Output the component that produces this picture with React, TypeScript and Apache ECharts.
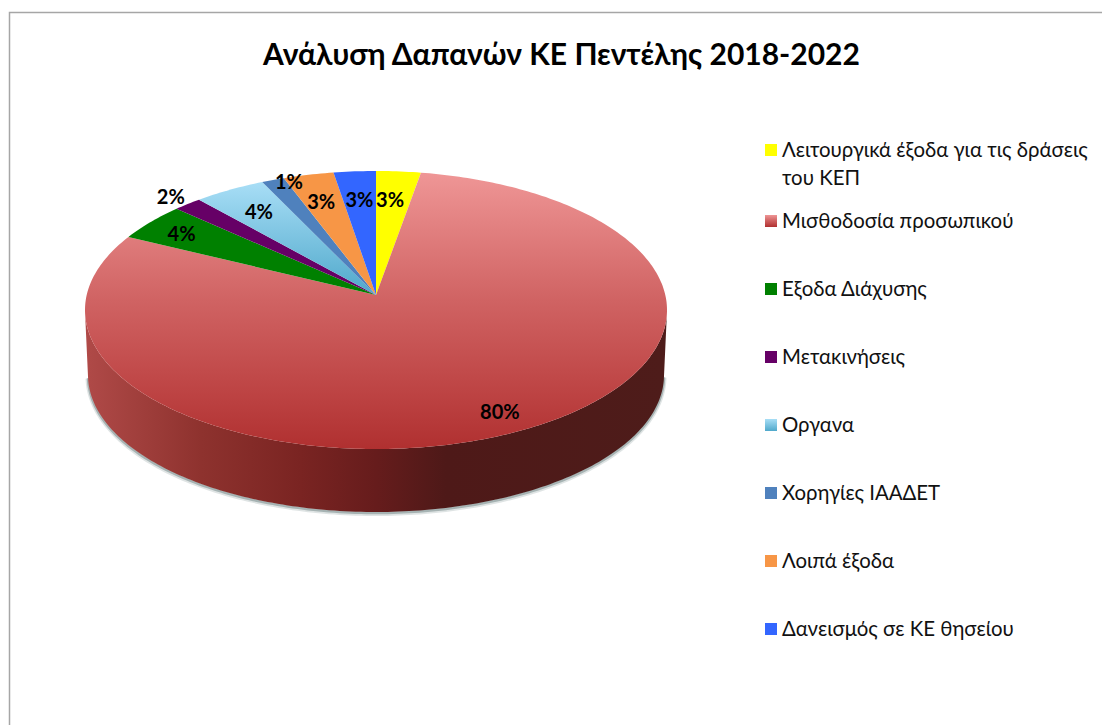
import React, { useEffect, useRef } from "react";
import * as echarts from "echarts";

const titleText = "Ανάλυση Δαπανών ΚΕ Πεντέλης 2018-2022";
const categories = [
  "Λειτουργικά έξοδα για τις δράσεις\nτου ΚΕΠ",
  "Μισθοδοσία προσωπικού",
  "Εξοδα Διάχυσης",
  "Μετακινήσεις",
  "Οργανα",
  "Χορηγίες ΙΑΑΔΕΤ",
  "Λοιπά έξοδα",
  "Δανεισμός σε ΚΕ θησείου",
];
const shares = [2.75, 79.55, 4.45, 1.75, 4.4, 1.4, 3.1, 2.6];

const sliceStops: [number, string][][] = [
  [[0, "#ffff00"], [1, "#ffff00"]],
  [[0, "#ef9696"], [0.46, "#d06363"], [0.8, "#bd4343"], [1, "#b03030"]],
  [[0, "#008000"], [1, "#008000"]],
  [[0, "#660066"], [1, "#660066"]],
  [[0, "#a8def6"], [1, "#4fa8cb"]],
  [[0, "#4f81bd"], [1, "#4f81bd"]],
  [[0, "#f79646"], [1, "#f79646"]],
  [[0, "#3366ff"], [1, "#3366ff"]],
];
const sideStops: [number, string][] = [
  [0, "#b04a48"], [0.2, "#8e322e"], [0.37, "#7a2422"], [0.5, "#661c1c"], [0.62, "#4e1918"], [1, "#4e1c1a"],
];
const labelRadius = [0.76, 0.867, 0.842, 1.096, 0.785, 0.99, 0.765, 0.758];
const labelNudgeX = [-3.5, 0, -3, 0, 0, 15, -2, 0];

const FONT = "Lato, 'Open Sans', sans-serif";
const apexX = 376, apexY = 295;
const persp = 0.108, scaleV = 137.4, scaleU = 289.3;
const sideCx = 376, sideCy = 375, sideRx = 288, sideRy = 137;
const rimCy = 310;

const total = shares.reduce((a, b) => a + b, 0);
const project = (r: number, th: number) => {
  const u = r * Math.sin(th), v = r * Math.cos(th);
  const w = 1 + persp * v;
  return [apexX + (scaleU * u) / w, apexY - (scaleV * v) / w];
};
const grad = (stops: [number, string][]) =>
  new echarts.graphic.LinearGradient(0, 0, 0, 1, stops.map(([offset, color]) => ({ offset, color })));

function renderSlice(params: any, api: any) {
  const i = params.dataIndex;
  const before = shares.slice(0, i).reduce((a, b) => a + b, 0);
  const start = (before / total) * Math.PI * 2;
  const sweep = (api.value(0) / total) * Math.PI * 2;
  const steps = Math.max(8, Math.ceil(sweep * 60));
  const rim: number[][] = [];
  for (let k = 0; k <= steps; k++) rim.push(project(1, start + (sweep * k) / steps));
  const children: any[] = [];

  const lower = rim.filter((p) => p[1] >= rimCy);
  if (lower.length > 1) {
    const backEdge = lower.map((p) => {
      const nx = Math.max(-1, Math.min(1, (p[0] - apexX) / 291));
      return [sideCx + sideRx * nx, sideCy + sideRy * Math.sqrt(1 - nx * nx)];
    });
    const edge = backEdge.slice();
    const pts = lower.concat(backEdge.reverse());
    [
      [5, "rgba(110,130,130,0.22)", 1.5],
      [2.5, "rgba(110,130,130,0.5)", 1],
    ].forEach(([lineWidth, stroke, dy]: any) => {
      children.push({
        type: "polyline",
        shape: { points: edge.map((p) => [p[0], p[1] + dy]) },
        style: { fill: "none", stroke, lineWidth },
        z2: 0,
      });
    });
    children.push({
      type: "polygon",
      shape: { points: pts },
      style: {
        fill: new echarts.graphic.LinearGradient(85, 0, 667, 0, sideStops.map(([offset, color]) => ({ offset, color })), true),
      },
      z2: 1,
    });
  }
  children.push({
    type: "polygon",
    shape: { points: [[apexX, apexY], ...rim] },
    style: { fill: grad(sliceStops[i]) },
    z2: 2,
  });
  const mid = project(labelRadius[i], start + sweep / 2);
  children.push({
    type: "text",
    x: mid[0] + labelNudgeX[i],
    y: mid[1],
    style: {
      text: Math.round((api.value(0) / total) * 100) + "%",
      font: `bold 20px ${FONT}`,
      fill: "#000",
      align: "center",
      verticalAlign: "middle",
    },
    z2: 10,
  });
  return { type: "group", children };
}

const legendGraphics = () => {
  const out: any[] = [];
  const rowY = (i: number) => (i === 0 ? 150 : 221 + (i - 1) * 68);
  categories.forEach((name, i) => {
    const y = rowY(i);
    out.push({
      type: "rect",
      shape: { x: 765, y: y - 6, width: 12, height: 12 },
      style: { fill: grad(sliceStops[i]) },
    });
    name.split("\n").forEach((line, k) => {
      out.push({
        type: "text",
        x: 782,
        y: y - 1 + k * 28,
        style: { text: line, font: `20.4px ${FONT}`, fill: "#111", verticalAlign: "middle", align: "left" },
      });
    });
  });
  return out;
};

export default function App() {
  const ref = useRef<HTMLDivElement>(null);
  useEffect(() => {
    const chart = echarts.init(ref.current!, null, { renderer: "svg" });
    chart.setOption({
      animation: false,
      backgroundColor: "#fff",
      title: {
        text: titleText,
        left: 556.5,
        top: 33,
        textAlign: "center",
        textStyle: { fontFamily: FONT, fontSize: 30, fontWeight: "bold", color: "#000" },
      },
      graphic: [
        {
          type: "rect",
          shape: { x: 9.5, y: 12.5, width: 1300, height: 900 },
          style: { fill: "none", stroke: "#a6a6a6", lineWidth: 1.5 },
        },
        ...legendGraphics(),
      ],
      series: [
        {
          type: "custom",
          coordinateSystem: "none",
          renderItem: renderSlice,
          data: shares.map((v) => [v]),
        },
      ],
    });
    return () => chart.dispose();
  }, []);
  return <div ref={ref} style={{ position: "absolute", left: 0, top: 0, width: 1102, height: 725 }} />;
}
